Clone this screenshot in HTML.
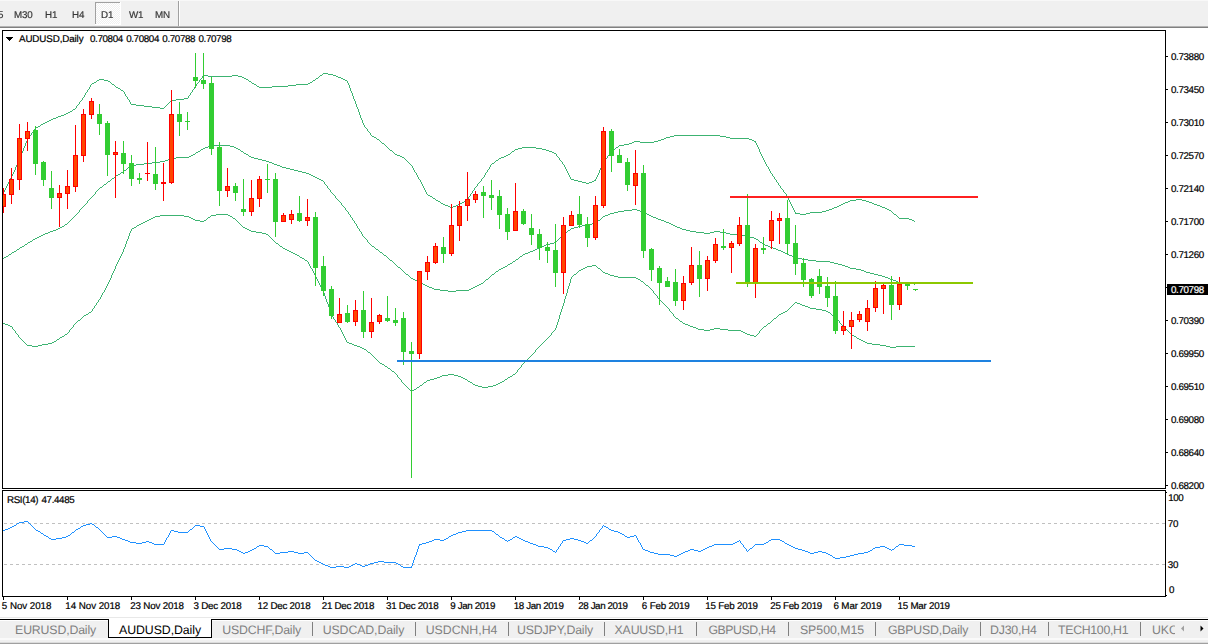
<!DOCTYPE html>
<html><head><meta charset="utf-8"><title>AUDUSD Daily</title>
<style>
html,body{margin:0;padding:0;background:#fff;}
body{width:1208px;height:644px;position:relative;overflow:hidden;font-family:"Liberation Sans",sans-serif;}
.t{position:absolute;white-space:nowrap;color:#000;line-height:14px;text-rendering:geometricPrecision;-webkit-text-stroke:0.2px currentColor;}
.ax{font-size:9.8px;letter-spacing:-0.37px;word-spacing:1px;}
.ti{font-size:9.8px;letter-spacing:-0.12px;}
.dt{font-size:9.8px;letter-spacing:-0.1px;}
.tb{font-size:9.8px;color:#383838;letter-spacing:-0.15px;will-change:transform;}
.tab{font-size:12.3px;color:#808080;letter-spacing:-0.05px;-webkit-text-stroke:0;}
</style></head><body>
<svg style="position:absolute;left:0;top:0" width="1208" height="644" viewBox="0 0 1208 644" shape-rendering="crispEdges">
<defs><clipPath id="cm"><rect x="3" y="31" width="1162" height="457"/></clipPath><clipPath id="cs"><rect x="3" y="491" width="1162" height="105"/></clipPath></defs>
<g clip-path="url(#cm)">
<path d="M-5.5 207v1M-4.5 205v2M-3.5 203v2M-2.5 201v2M-1.5 199v2M0.5 197v2M1.5 195v2M2.5 193v2M3.5 192v1M3.5 192v1M4.5 190v2M5.5 188v2M6.5 186v2M7.5 184v2M8.5 182v2M9.5 180v2M10.5 178v2M11.5 177v1M11.5 176v2M12.5 174v2M13.5 172v2M14.5 170v2M15.5 167v3M16.5 165v2M17.5 163v2M18.5 161v2M19.5 159v2M19.5 158v2M20.5 156v2M21.5 153v3M22.5 151v2M23.5 148v3M24.5 146v2M25.5 143v3M26.5 141v2M27.5 139v2M27.5 139v1M28.5 137v2M29.5 136v1M30.5 135v1M31.5 133v2M32.5 132v1M33.5 131v1M34.5 129v2M35.5 128v1M35 128.5h1M36 127.5h2M38 126.5h2M40 125.5h1M41 124.5h2M43 123.5h1M43 123.5h2M45 122.5h2M47 121.5h2M49 120.5h2M51 119.5h1M51 119.5h2M53 118.5h3M56 117.5h2M58 116.5h2M59 116.5h2M61 115.5h3M64 114.5h2M66 113.5h2M67 113.5h1M68 112.5h2M70 111.5h2M72 110.5h1M73 109.5h2M75 108.5h1M75.5 108v1M76.5 106v2M77.5 105v1M78.5 104v1M79.5 102v2M80.5 101v1M81.5 100v1M82.5 98v2M83.5 97v1M83.5 97v1M84.5 95v2M85.5 93v2M86.5 92v1M87.5 90v2M88.5 89v1M89.5 87v2M90.5 85v2M91.5 84v1M91 84.5h1M92 83.5h2M94 82.5h2M96 81.5h1M97 80.5h2M99 79.5h1M99 79.5h5M104 80.5h4M107 80.5h1M108 81.5h2M110 82.5h1M111 83.5h1M112 84.5h2M114 85.5h1M115 86.5h1M115 86.5h1M116 87.5h2M118 88.5h2M120 89.5h1M121 90.5h2M123 91.5h1M123.5 91v1M124.5 92v2M125.5 94v2M126.5 96v1M127.5 97v2M128.5 99v1M129.5 100v2M130.5 102v2M131.5 104v1M131 104.5h5M136 105.5h4M139 105.5h5M144 106.5h4M147 106.5h5M152 107.5h4M155 107.5h5M160 108.5h4M163 108.5h1M164 107.5h1M165 106.5h1M166 105.5h1M167 104.5h1M168 103.5h1M169 102.5h1M170 101.5h1M171 100.5h1M171 100.5h5M176 99.5h4M179 99.5h5M184 98.5h4M187.5 98v1M188.5 96v2M189.5 95v1M190.5 93v2M191.5 92v1M192.5 90v2M193.5 89v1M194.5 87v2M195.5 86v1M195.5 86v1M196.5 84v2M197.5 83v1M198.5 82v1M199.5 80v2M200.5 79v1M201.5 78v1M202.5 76v2M203.5 75v1M203 75.5h5M208 76.5h4M211 76.5h9M219 76.5h9M227 76.5h5M232 75.5h4M235 75.5h3M238 76.5h4M242 77.5h2M243 77.5h1M244 78.5h2M246 79.5h2M248 80.5h1M249 81.5h2M251 82.5h1M251 82.5h1M252 83.5h2M254 84.5h2M256 85.5h1M257 86.5h2M259 87.5h1M259 87.5h9M267 87.5h5M272 86.5h4M275 86.5h9M283 86.5h5M288 85.5h4M291 85.5h5M296 84.5h4M299 84.5h9M307 84.5h1M308 83.5h2M310 82.5h2M312 81.5h1M313 80.5h2M315 79.5h1M315 79.5h1M316 78.5h2M318 77.5h1M319 76.5h1M320 75.5h2M322 74.5h1M323 73.5h1M323 73.5h5M328 74.5h4M331 74.5h2M333 75.5h3M336 76.5h2M338 77.5h2M339 77.5h2M341 78.5h2M343 79.5h2M345 80.5h2M347 81.5h1M347.5 81v2M348.5 83v2M349.5 85v3M350.5 88v3M351.5 91v2M352.5 93v3M353.5 96v3M354.5 99v2M355.5 101v2M355.5 102v2M356.5 104v3M357.5 107v2M358.5 109v3M359.5 112v3M360.5 115v3M361.5 118v2M362.5 120v3M363.5 123v2M363.5 124v1M364.5 125v2M365.5 127v1M366.5 128v1M367.5 129v2M368.5 131v1M369.5 132v1M370.5 133v2M371.5 135v1M371 135.5h1M372 136.5h2M374 137.5h2M376 138.5h1M377 139.5h2M379 140.5h1M379 140.5h1M380 141.5h1M381 142.5h1M382 143.5h2M384 144.5h1M385 145.5h1M386 146.5h1M387 147.5h1M387 147.5h1M388 148.5h1M389 149.5h1M390 150.5h2M392 151.5h1M393 152.5h1M394 153.5h1M395 154.5h1M395 154.5h2M397 155.5h3M400 156.5h2M402 157.5h2M403 157.5h1M404 158.5h1M405 159.5h1M406 160.5h1M407 161.5h1M408 162.5h1M409 163.5h1M410 164.5h1M411 165.5h1M411.5 165v1M412.5 166v2M413.5 168v2M414.5 170v2M415.5 172v1M416.5 173v2M417.5 175v2M418.5 177v2M419.5 179v1M419.5 179v1M420.5 180v2M421.5 182v2M422.5 184v2M423.5 186v2M424.5 188v2M425.5 190v2M426.5 192v2M427.5 194v1M427 194.5h1M428 195.5h2M430 196.5h2M432 197.5h1M433 198.5h2M435 199.5h1M435 199.5h1M436 200.5h2M438 201.5h2M440 202.5h1M441 203.5h2M443 204.5h1M443 204.5h2M445 205.5h3M448 206.5h2M450 207.5h2M451 207.5h2M453 206.5h3M456 205.5h2M458 204.5h2M459 204.5h1M460 203.5h2M462 202.5h2M464 201.5h1M465 200.5h2M467 199.5h1M467.5 199v1M468.5 197v2M469.5 196v1M470.5 194v2M471.5 193v1M472.5 191v2M473.5 190v1M474.5 188v2M475.5 187v1M475.5 187v1M476.5 186v1M477.5 184v2M478.5 183v1M479.5 182v1M480.5 181v1M481.5 179v2M482.5 178v1M483.5 177v1M483.5 177v1M484.5 175v2M485.5 173v2M486.5 172v1M487.5 170v2M488.5 169v1M489.5 167v2M490.5 165v2M491.5 164v1M491 164.5h1M492 163.5h2M494 162.5h1M495 161.5h1M496 160.5h2M498 159.5h1M499 158.5h1M499 158.5h2M501 157.5h3M504 156.5h2M506 155.5h2M507 155.5h1M508 154.5h2M510 153.5h1M511 152.5h1M512 151.5h2M514 150.5h1M515 149.5h1M515 149.5h3M518 148.5h4M522 147.5h2M523 147.5h9M531 147.5h5M536 148.5h4M539 148.5h3M542 149.5h4M546 150.5h2M547 150.5h2M549 151.5h3M552 152.5h2M554 153.5h2M555.5 153v1M556.5 154v2M557.5 156v1M558.5 157v1M559.5 158v2M560.5 160v1M561.5 161v1M562.5 162v2M563.5 164v1M563.5 164v1M564.5 165v2M565.5 167v2M566.5 169v2M567.5 171v2M568.5 173v2M569.5 175v2M570.5 177v2M571.5 179v1M571 179.5h3M574 180.5h4M578 181.5h2M579 181.5h3M582 182.5h4M586 183.5h2M587 183.5h2M589 182.5h3M592 181.5h2M594 180.5h2M595.5 179v2M596.5 177v2M597.5 175v2M598.5 173v2M599.5 170v3M600.5 168v2M601.5 166v2M602.5 164v2M603.5 162v2M603.5 162v1M604.5 160v2M605.5 159v1M606.5 158v1M607.5 156v2M608.5 155v1M609.5 154v1M610.5 152v2M611.5 151v1M611 151.5h1M612 150.5h2M614 149.5h1M615 148.5h1M616 147.5h2M618 146.5h1M619 145.5h1M619 145.5h5M624 144.5h4M627 144.5h2M629 143.5h3M632 142.5h2M634 141.5h2M635 141.5h5M640 142.5h4M643 142.5h9M651 142.5h3M654 141.5h4M658 140.5h2M659 140.5h2M661 139.5h3M664 138.5h2M666 137.5h2M667 137.5h3M670 136.5h4M674 135.5h2M675 135.5h9M683 135.5h9M691 135.5h9M699 135.5h9M707 135.5h9M715 135.5h5M720 136.5h4M723 136.5h3M726 137.5h4M730 138.5h2M731 138.5h9M739 138.5h9M747 138.5h2M749 139.5h3M752 140.5h2M754 141.5h2M755.5 141v2M756.5 143v2M757.5 145v2M758.5 147v2M759.5 149v3M760.5 152v2M761.5 154v2M762.5 156v2M763.5 158v2M763.5 159v1M764.5 160v2M765.5 162v2M766.5 164v2M767.5 166v1M768.5 167v2M769.5 169v2M770.5 171v2M771.5 173v1M771.5 173v1M772.5 174v2M773.5 176v1M774.5 177v2M775.5 179v1M776.5 180v2M777.5 182v1M778.5 183v2M779.5 185v1M779.5 185v1M780.5 186v2M781.5 188v1M782.5 189v1M783.5 190v2M784.5 192v1M785.5 193v1M786.5 194v2M787.5 196v1M787.5 196v2M788.5 198v2M789.5 200v2M790.5 202v2M791.5 204v2M792.5 206v2M793.5 208v2M794.5 210v2M795.5 212v2M795 213.5h5M800 214.5h4M803 214.5h3M806 213.5h4M810 212.5h2M811 212.5h9M819 212.5h3M822 211.5h4M826 210.5h2M827 210.5h2M829 209.5h3M832 208.5h2M834 207.5h2M835 207.5h2M837 206.5h2M839 205.5h2M841 204.5h2M843 203.5h1M843 203.5h2M845 202.5h3M848 201.5h2M850 200.5h2M851 200.5h5M856 199.5h4M859 199.5h3M862 200.5h4M866 201.5h2M867 201.5h2M869 202.5h3M872 203.5h2M874 204.5h2M875 204.5h2M877 205.5h3M880 206.5h2M882 207.5h2M883 207.5h2M885 208.5h2M887 209.5h2M889 210.5h2M891 211.5h1M891 211.5h1M892 212.5h1M893 213.5h1M894 214.5h2M896 215.5h1M897 216.5h1M898 217.5h1M899 218.5h1M899 218.5h9M907 218.5h2M909 219.5h3M912 220.5h2M914 221.5h1" fill="none" stroke="#3cb371" stroke-width="1"/><path d="M-5 262.5h2M-3 261.5h2M-1 260.5h2M1 259.5h2M3 258.5h1M3 258.5h1M4 257.5h2M6 256.5h2M8 255.5h1M9 254.5h2M11 253.5h1M11 253.5h1M12 252.5h2M14 251.5h2M16 250.5h1M17 249.5h2M19 248.5h1M19 248.5h1M20 247.5h2M22 246.5h2M24 245.5h1M25 244.5h2M27 243.5h1M27 243.5h1M28 242.5h2M30 241.5h2M32 240.5h1M33 239.5h2M35 238.5h1M35 238.5h2M37 237.5h2M39 236.5h2M41 235.5h2M43 234.5h1M43 234.5h2M45 233.5h3M48 232.5h2M50 231.5h2M51 231.5h2M53 230.5h3M56 229.5h2M58 228.5h2M59 228.5h1M60 227.5h2M62 226.5h2M64 225.5h1M65 224.5h2M67 223.5h1M67 223.5h1M68 222.5h1M69 221.5h1M70 220.5h1M71 219.5h1M72 218.5h1M73 217.5h1M74 216.5h1M75 215.5h1M75.5 215v1M76.5 214v1M77.5 213v1M78.5 212v1M79.5 210v2M80.5 209v1M81.5 208v1M82.5 207v1M83.5 206v1M83.5 206v1M84.5 205v1M85.5 204v1M86.5 203v1M87.5 201v2M88.5 200v1M89.5 199v1M90.5 198v1M91.5 197v1M91.5 197v1M92.5 196v1M93.5 195v1M94.5 194v1M95.5 192v2M96.5 191v1M97.5 190v1M98.5 189v1M99.5 188v1M99 188.5h1M100 187.5h2M102 186.5h1M103 185.5h1M104 184.5h2M106 183.5h1M107 182.5h1M107 182.5h1M108 181.5h2M110 180.5h1M111 179.5h1M112 178.5h2M114 177.5h1M115 176.5h1M115 176.5h1M116 175.5h2M118 174.5h2M120 173.5h1M121 172.5h2M123 171.5h1M123 171.5h1M124 170.5h2M126 169.5h1M127 168.5h1M128 167.5h2M130 166.5h1M131 165.5h1M131 165.5h5M136 164.5h4M139 164.5h5M144 163.5h4M147 163.5h5M152 162.5h4M155 162.5h5M160 161.5h4M163 161.5h2M165 160.5h3M168 159.5h2M170 158.5h2M171 158.5h5M176 157.5h4M179 157.5h9M187 157.5h2M189 156.5h2M191 155.5h2M193 154.5h2M195 153.5h1M195 153.5h1M196 152.5h2M198 151.5h2M200 150.5h1M201 149.5h2M203 148.5h1M203 148.5h2M205 147.5h3M208 146.5h2M210 145.5h2M211 145.5h9M219 145.5h9M227 145.5h3M230 146.5h4M234 147.5h2M235 147.5h1M236 148.5h2M238 149.5h2M240 150.5h1M241 151.5h2M243 152.5h1M243 152.5h1M244 153.5h2M246 154.5h2M248 155.5h1M249 156.5h2M251 157.5h1M251 157.5h3M254 158.5h4M258 159.5h2M259 159.5h3M262 160.5h4M266 161.5h2M267 161.5h2M269 162.5h3M272 163.5h2M274 164.5h2M275 164.5h2M277 165.5h3M280 166.5h2M282 167.5h2M283 167.5h3M286 168.5h4M290 169.5h2M291 169.5h3M294 170.5h4M298 171.5h2M299 171.5h3M302 172.5h4M306 173.5h2M307 173.5h2M309 174.5h2M311 175.5h2M313 176.5h2M315 177.5h1M315 177.5h2M317 178.5h2M319 179.5h2M321 180.5h2M323 181.5h1M323.5 181v1M324.5 182v2M325.5 184v1M326.5 185v1M327.5 186v2M328.5 188v1M329.5 189v1M330.5 190v2M331.5 192v1M331.5 192v1M332.5 193v1M333.5 194v1M334.5 195v1M335.5 196v2M336.5 198v1M337.5 199v1M338.5 200v1M339.5 201v1M339.5 201v1M340.5 202v1M341.5 203v2M342.5 205v1M343.5 206v1M344.5 207v1M345.5 208v2M346.5 210v1M347.5 211v1M347.5 211v1M348.5 212v2M349.5 214v1M350.5 215v2M351.5 217v1M352.5 218v2M353.5 220v1M354.5 221v2M355.5 223v1M355.5 223v1M356.5 224v2M357.5 226v2M358.5 228v1M359.5 229v2M360.5 231v1M361.5 232v2M362.5 234v2M363.5 236v1M363.5 236v1M364.5 237v1M365.5 238v1M366.5 239v1M367.5 240v2M368.5 242v1M369.5 243v1M370.5 244v1M371.5 245v1M371 245.5h1M372 246.5h2M374 247.5h1M375 248.5h1M376 249.5h2M378 250.5h1M379 251.5h1M379 251.5h1M380 252.5h2M382 253.5h1M383 254.5h1M384 255.5h2M386 256.5h1M387 257.5h1M387 257.5h1M388 258.5h1M389 259.5h1M390 260.5h2M392 261.5h1M393 262.5h1M394 263.5h1M395 264.5h1M395 264.5h1M396 265.5h1M397 266.5h1M398 267.5h2M400 268.5h1M401 269.5h1M402 270.5h1M403 271.5h1M403 271.5h1M404 272.5h1M405 273.5h1M406 274.5h2M408 275.5h1M409 276.5h1M410 277.5h1M411 278.5h1M411 278.5h2M413 279.5h2M415 280.5h2M417 281.5h2M419 282.5h1M419 282.5h2M421 283.5h2M423 284.5h2M425 285.5h2M427 286.5h1M427 286.5h2M429 287.5h3M432 288.5h2M434 289.5h2M435 289.5h5M440 290.5h4M443 290.5h5M448 291.5h4M451 291.5h5M456 290.5h4M459 290.5h9M467 290.5h2M469 289.5h2M471 288.5h2M473 287.5h2M475 286.5h1M475 286.5h2M477 285.5h2M479 284.5h2M481 283.5h2M483 282.5h1M483 282.5h1M484 281.5h1M485 280.5h1M486 279.5h2M488 278.5h1M489 277.5h1M490 276.5h1M491 275.5h1M491 275.5h1M492 274.5h2M494 273.5h1M495 272.5h1M496 271.5h2M498 270.5h1M499 269.5h1M499 269.5h2M501 268.5h2M503 267.5h2M505 266.5h2M507 265.5h1M507 265.5h1M508 264.5h2M510 263.5h2M512 262.5h1M513 261.5h2M515 260.5h1M515 260.5h1M516 259.5h2M518 258.5h1M519 257.5h1M520 256.5h2M522 255.5h1M523 254.5h1M523 254.5h2M525 253.5h3M528 252.5h2M530 251.5h2M531 251.5h2M533 250.5h2M535 249.5h2M537 248.5h2M539 247.5h1M539 247.5h2M541 246.5h3M544 245.5h2M546 244.5h2M547 244.5h3M550 243.5h4M554 242.5h2M555 242.5h1M556 241.5h1M557 240.5h1M558 239.5h1M559 238.5h1M560 237.5h1M561 236.5h1M562 235.5h1M563 234.5h1M563 234.5h1M564 233.5h2M566 232.5h1M567 231.5h1M568 230.5h2M570 229.5h1M571 228.5h1M571 228.5h3M574 227.5h4M578 226.5h2M579 226.5h3M582 225.5h4M586 224.5h2M587 224.5h5M592 223.5h4M595 223.5h1M596 222.5h1M597 221.5h1M598 220.5h2M600 219.5h1M601 218.5h1M602 217.5h1M603 216.5h1M603 216.5h2M605 215.5h3M608 214.5h2M610 213.5h2M611 213.5h3M614 212.5h4M618 211.5h2M619 211.5h5M624 210.5h4M627 210.5h5M632 209.5h4M635 209.5h2M637 210.5h3M640 211.5h2M642 212.5h2M643 212.5h2M645 213.5h2M647 214.5h2M649 215.5h2M651 216.5h1M651 216.5h2M653 217.5h3M656 218.5h2M658 219.5h2M659 219.5h2M661 220.5h3M664 221.5h2M666 222.5h2M667 222.5h2M669 223.5h2M671 224.5h2M673 225.5h2M675 226.5h1M675 226.5h2M677 227.5h3M680 228.5h2M682 229.5h2M683 229.5h3M686 230.5h4M690 231.5h2M691 231.5h5M696 232.5h4M699 232.5h5M704 233.5h4M707 233.5h3M710 232.5h4M714 231.5h2M715 231.5h5M720 232.5h4M723 232.5h3M726 233.5h4M730 234.5h2M731 234.5h9M739 234.5h3M742 235.5h4M746 236.5h2M747 236.5h3M750 237.5h4M754 238.5h2M755 238.5h1M756 239.5h2M758 240.5h1M759 241.5h1M760 242.5h2M762 243.5h1M763 244.5h1M763 244.5h2M765 245.5h3M768 246.5h2M770 247.5h2M771 247.5h2M773 248.5h3M776 249.5h2M778 250.5h2M779 250.5h2M781 251.5h2M783 252.5h2M785 253.5h2M787 254.5h1M787 254.5h2M789 255.5h3M792 256.5h2M794 257.5h2M795 257.5h3M798 258.5h4M802 259.5h2M803 259.5h5M808 260.5h4M811 260.5h5M816 261.5h4M819 261.5h9M827 261.5h3M830 262.5h4M834 263.5h2M835 263.5h3M838 264.5h4M842 265.5h2M843 265.5h2M845 266.5h3M848 267.5h2M850 268.5h2M851 268.5h5M856 269.5h4M859 269.5h2M861 270.5h3M864 271.5h2M866 272.5h2M867 272.5h3M870 273.5h4M874 274.5h2M875 274.5h3M878 275.5h4M882 276.5h2M883 276.5h2M885 277.5h3M888 278.5h2M890 279.5h2M891 279.5h2M893 280.5h3M896 281.5h2M898 282.5h2M899 282.5h5M904 283.5h4M907 283.5h8" fill="none" stroke="#3cb371" stroke-width="1"/><path d="M-5 320.5h2M-3 321.5h3M0 322.5h2M2 323.5h2M3 323.5h2M5 324.5h3M8 325.5h2M10 326.5h2M11.5 326v1M12.5 327v2M13.5 329v1M14.5 330v1M15.5 331v2M16.5 333v1M17.5 334v1M18.5 335v2M19.5 337v1M19 337.5h1M20 338.5h1M21 339.5h1M22 340.5h1M23 341.5h1M24 342.5h1M25 343.5h1M26 344.5h1M27 345.5h1M27 345.5h5M32 346.5h4M35 346.5h3M38 345.5h4M42 344.5h2M43 344.5h5M48 343.5h4M51 343.5h1M52 342.5h2M54 341.5h2M56 340.5h1M57 339.5h2M59 338.5h1M59 338.5h1M60 337.5h2M62 336.5h2M64 335.5h1M65 334.5h2M67 333.5h1M67.5 333v1M68.5 332v1M69.5 330v2M70.5 329v1M71.5 328v1M72.5 327v1M73.5 325v2M74.5 324v1M75.5 323v1M75 323.5h1M76 322.5h1M77 321.5h1M78 320.5h2M80 319.5h1M81 318.5h1M82 317.5h1M83 316.5h1M83 316.5h1M84 315.5h2M86 314.5h2M88 313.5h1M89 312.5h2M91 311.5h1M91.5 311v1M92.5 309v2M93.5 308v1M94.5 306v2M95.5 305v1M96.5 303v2M97.5 302v1M98.5 300v2M99.5 299v1M99.5 299v1M100.5 297v2M101.5 295v2M102.5 293v2M103.5 292v1M104.5 290v2M105.5 288v2M106.5 286v2M107.5 285v1M107.5 284v2M108.5 282v2M109.5 280v2M110.5 278v2M111.5 275v3M112.5 273v2M113.5 271v2M114.5 269v2M115.5 267v2M115.5 266v2M116.5 264v2M117.5 262v2M118.5 260v2M119.5 258v2M120.5 256v2M121.5 254v2M122.5 252v2M123.5 250v2M123.5 249v2M124.5 247v2M125.5 244v3M126.5 241v3M127.5 239v2M128.5 236v3M129.5 233v3M130.5 231v2M131.5 229v2M131 229.5h1M132 228.5h2M134 227.5h2M136 226.5h1M137 225.5h2M139 224.5h1M139 224.5h2M141 223.5h2M143 222.5h2M145 221.5h2M147 220.5h1M147 220.5h2M149 219.5h2M151 218.5h2M153 217.5h2M155 216.5h1M155 216.5h5M160 215.5h4M163 215.5h9M171 215.5h9M179 215.5h5M184 216.5h4M187 216.5h2M189 217.5h2M191 218.5h2M193 219.5h2M195 220.5h1M195 220.5h5M200 221.5h4M203 221.5h1M204 220.5h2M206 219.5h1M207 218.5h1M208 217.5h2M210 216.5h1M211 215.5h1M211 215.5h5M216 214.5h4M219 214.5h9M227 214.5h1M228 215.5h2M230 216.5h2M232 217.5h1M233 218.5h2M235 219.5h1M235 219.5h1M236 220.5h1M237 221.5h1M238 222.5h1M239 223.5h1M240 224.5h1M241 225.5h1M242 226.5h1M243 227.5h1M243 227.5h2M245 228.5h2M247 229.5h2M249 230.5h2M251 231.5h1M251 231.5h5M256 232.5h4M259 232.5h3M262 233.5h4M266 234.5h2M267 234.5h1M268 235.5h1M269 236.5h1M270 237.5h1M271 238.5h1M272 239.5h1M273 240.5h1M274 241.5h1M275 242.5h1M275 242.5h1M276 243.5h2M278 244.5h1M279 245.5h1M280 246.5h2M282 247.5h1M283 248.5h1M283 248.5h2M285 249.5h2M287 250.5h2M289 251.5h2M291 252.5h1M291 252.5h2M293 253.5h2M295 254.5h2M297 255.5h2M299 256.5h1M299 256.5h1M300 257.5h2M302 258.5h2M304 259.5h1M305 260.5h2M307 261.5h1M307.5 261v1M308.5 262v2M309.5 264v2M310.5 266v2M311.5 268v1M312.5 269v2M313.5 271v2M314.5 273v2M315.5 275v1M315.5 275v2M316.5 277v2M317.5 279v2M318.5 281v2M319.5 283v2M320.5 285v2M321.5 287v2M322.5 289v2M323.5 291v1M323.5 291v2M324.5 293v3M325.5 296v3M326.5 299v3M327.5 302v2M328.5 304v3M329.5 307v3M330.5 310v3M331.5 313v2M331.5 314v1M332.5 315v2M333.5 317v2M334.5 319v1M335.5 320v2M336.5 322v1M337.5 323v2M338.5 325v2M339.5 327v1M339.5 327v1M340.5 328v2M341.5 330v2M342.5 332v2M343.5 334v2M344.5 336v2M345.5 338v2M346.5 340v2M347.5 342v1M347 342.5h2M349 343.5h3M352 344.5h2M354 345.5h2M355 345.5h2M357 346.5h3M360 347.5h2M362 348.5h2M363 348.5h1M364 349.5h2M366 350.5h1M367 351.5h1M368 352.5h2M370 353.5h1M371 354.5h1M371 354.5h1M372 355.5h1M373 356.5h1M374 357.5h1M375 358.5h1M376 359.5h1M377 360.5h1M378 361.5h1M379 362.5h1M379 362.5h1M380 363.5h2M382 364.5h2M384 365.5h1M385 366.5h2M387 367.5h1M387 367.5h1M388 368.5h2M390 369.5h1M391 370.5h1M392 371.5h2M394 372.5h1M395 373.5h1M395.5 373v1M396.5 374v1M397.5 375v2M398.5 377v1M399.5 378v1M400.5 379v1M401.5 380v2M402.5 382v1M403.5 383v1M403 383.5h1M404 384.5h1M405 385.5h1M406 386.5h1M407 387.5h1M408 388.5h1M409 389.5h1M410 390.5h1M411 391.5h1M411 391.5h1M412 390.5h2M414 389.5h2M416 388.5h1M417 387.5h2M419 386.5h1M419 386.5h1M420 385.5h2M422 384.5h1M423 383.5h1M424 382.5h2M426 381.5h1M427 380.5h1M427 380.5h3M430 379.5h4M434 378.5h2M435 378.5h2M437 377.5h3M440 376.5h2M442 375.5h2M443 375.5h5M448 374.5h4M451 374.5h3M454 375.5h4M458 376.5h2M459 376.5h2M461 377.5h2M463 378.5h2M465 379.5h2M467 380.5h1M467 380.5h1M468 381.5h2M470 382.5h2M472 383.5h1M473 384.5h2M475 385.5h1M475 385.5h3M478 386.5h4M482 387.5h2M483 387.5h5M488 386.5h4M491 386.5h2M493 385.5h3M496 384.5h2M498 383.5h2M499 383.5h1M500 382.5h2M502 381.5h2M504 380.5h1M505 379.5h2M507 378.5h1M507 378.5h1M508 377.5h2M510 376.5h2M512 375.5h1M513 374.5h2M515 373.5h1M515.5 373v1M516.5 372v1M517.5 370v2M518.5 369v1M519.5 368v1M520.5 367v1M521.5 365v2M522.5 364v1M523.5 363v1M523 363.5h1M524 362.5h1M525 361.5h1M526 360.5h1M527 359.5h1M528 358.5h1M529 357.5h1M530 356.5h1M531 355.5h1M531.5 355v1M532.5 354v1M533.5 353v1M534.5 352v1M535.5 350v2M536.5 349v1M537.5 348v1M538.5 347v1M539.5 346v1M539 346.5h1M540 345.5h1M541 344.5h1M542 343.5h1M543 342.5h1M544 341.5h1M545 340.5h1M546 339.5h1M547 338.5h1M547.5 338v1M548.5 337v1M549.5 336v1M550.5 335v1M551.5 333v2M552.5 332v1M553.5 331v1M554.5 330v1M555.5 329v1M555.5 328v2M556.5 325v3M557.5 322v3M558.5 319v3M559.5 315v4M560.5 312v3M561.5 309v3M562.5 306v3M563.5 304v2M563.5 303v2M564.5 299v4M565.5 296v3M566.5 293v3M567.5 289v4M568.5 286v3M569.5 283v3M570.5 279v4M571.5 277v2M571 277.5h1M572 276.5h1M573 275.5h1M574 274.5h2M576 273.5h1M577 272.5h1M578 271.5h1M579 270.5h1M579 270.5h2M581 269.5h2M583 268.5h2M585 267.5h2M587 266.5h1M587 266.5h5M592 265.5h4M595 265.5h1M596 266.5h1M597 267.5h1M598 268.5h2M600 269.5h1M601 270.5h1M602 271.5h1M603 272.5h1M603 272.5h2M605 273.5h3M608 274.5h2M610 275.5h2M611 275.5h3M614 276.5h4M618 277.5h2M619 277.5h9M627 277.5h9M635 277.5h1M636 278.5h2M638 279.5h2M640 280.5h1M641 281.5h2M643 282.5h1M643 282.5h1M644 283.5h1M645 284.5h1M646 285.5h2M648 286.5h1M649 287.5h1M650 288.5h1M651 289.5h1M651.5 289v1M652.5 290v1M653.5 291v2M654.5 293v1M655.5 294v1M656.5 295v1M657.5 296v2M658.5 298v1M659.5 299v1M659 299.5h1M660 300.5h1M661 301.5h1M662 302.5h1M663 303.5h1M664 304.5h1M665 305.5h1M666 306.5h1M667 307.5h1M667.5 307v1M668.5 308v1M669.5 309v2M670.5 311v1M671.5 312v1M672.5 313v1M673.5 314v2M674.5 316v1M675.5 317v1M675 317.5h1M676 318.5h2M678 319.5h1M679 320.5h1M680 321.5h2M682 322.5h1M683 323.5h1M683 323.5h2M685 324.5h3M688 325.5h2M690 326.5h2M691 326.5h2M693 327.5h3M696 328.5h2M698 329.5h2M699 329.5h5M704 330.5h4M707 330.5h3M710 329.5h4M714 328.5h2M715 328.5h5M720 329.5h4M723 329.5h5M728 330.5h4M731 330.5h9M739 330.5h2M741 331.5h2M743 332.5h2M745 333.5h2M747 334.5h1M747 334.5h3M750 335.5h4M754 336.5h2M755.5 336v1M756.5 335v1M757.5 334v1M758.5 333v1M759.5 331v2M760.5 330v1M761.5 329v1M762.5 328v1M763.5 327v1M763 327.5h1M764 326.5h2M766 325.5h1M767 324.5h1M768 323.5h2M770 322.5h1M771 321.5h1M771 321.5h1M772 320.5h1M773 319.5h1M774 318.5h2M776 317.5h1M777 316.5h1M778 315.5h1M779 314.5h1M779 314.5h2M781 313.5h2M783 312.5h2M785 311.5h2M787 310.5h1M787 310.5h1M788 309.5h1M789 308.5h1M790 307.5h1M791 306.5h1M792 305.5h1M793 304.5h1M794 303.5h1M795 302.5h1M795 302.5h2M797 303.5h3M800 304.5h2M802 305.5h2M803 305.5h2M805 306.5h3M808 307.5h2M810 308.5h2M811 308.5h5M816 309.5h4M819 309.5h3M822 310.5h4M826 311.5h2M827 311.5h1M828 312.5h2M830 313.5h1M831 314.5h1M832 315.5h2M834 316.5h1M835 317.5h1M835.5 317v1M836.5 318v1M837.5 319v1M838.5 320v1M839.5 321v2M840.5 323v1M841.5 324v1M842.5 325v1M843.5 326v1M843 326.5h1M844 327.5h1M845 328.5h1M846 329.5h1M847 330.5h1M848 331.5h1M849 332.5h1M850 333.5h1M851 334.5h1M851 334.5h1M852 335.5h2M854 336.5h2M856 337.5h1M857 338.5h2M859 339.5h1M859 339.5h2M861 340.5h2M863 341.5h2M865 342.5h2M867 343.5h1M867 343.5h5M872 344.5h4M875 344.5h5M880 345.5h4M883 345.5h3M886 346.5h4M890 347.5h2M891 347.5h5M896 346.5h4M899 346.5h9M907 346.5h8" fill="none" stroke="#3cb371" stroke-width="1"/><rect x="914" y="284" width="1" height="1" fill="#3cb371"/>
<rect x="3" y="188" width="1" height="25" fill="#ff0000"/><rect x="1" y="194" width="5" height="13" fill="#ff0000"/><rect x="2" y="195" width="3" height="11" fill="#ff4500"/><rect x="11" y="168" width="1" height="36" fill="#ff0000"/><rect x="9" y="179" width="5" height="16" fill="#ff0000"/><rect x="10" y="180" width="3" height="14" fill="#ff4500"/><rect x="19" y="124" width="1" height="66" fill="#ff0000"/><rect x="17" y="138" width="5" height="42" fill="#ff0000"/><rect x="18" y="139" width="3" height="40" fill="#ff4500"/><rect x="27" y="122" width="1" height="29" fill="#ff0000"/><rect x="25" y="131" width="5" height="8" fill="#ff0000"/><rect x="26" y="132" width="3" height="6" fill="#ff4500"/><rect x="35" y="126" width="1" height="49" fill="#32cd32"/><rect x="33" y="130" width="5" height="34" fill="#32cd32"/><rect x="43" y="161" width="1" height="25" fill="#32cd32"/><rect x="41" y="162" width="5" height="18" fill="#32cd32"/><rect x="51" y="171" width="1" height="38" fill="#32cd32"/><rect x="49" y="188" width="5" height="10" fill="#32cd32"/><rect x="59" y="185" width="1" height="42" fill="#ff0000"/><rect x="57" y="193" width="5" height="5" fill="#ff0000"/><rect x="58" y="194" width="3" height="3" fill="#ff4500"/><rect x="67" y="170" width="1" height="39" fill="#ff0000"/><rect x="65" y="186" width="5" height="8" fill="#ff0000"/><rect x="66" y="187" width="3" height="6" fill="#ff4500"/><rect x="75" y="125" width="1" height="67" fill="#ff0000"/><rect x="73" y="155" width="5" height="32" fill="#ff0000"/><rect x="74" y="156" width="3" height="30" fill="#ff4500"/><rect x="83" y="109" width="1" height="53" fill="#ff0000"/><rect x="81" y="114" width="5" height="42" fill="#ff0000"/><rect x="82" y="115" width="3" height="40" fill="#ff4500"/><rect x="91" y="98" width="1" height="21" fill="#ff0000"/><rect x="89" y="101" width="5" height="14" fill="#ff0000"/><rect x="90" y="102" width="3" height="12" fill="#ff4500"/><rect x="99" y="104" width="1" height="31" fill="#32cd32"/><rect x="97" y="114" width="5" height="10" fill="#32cd32"/><rect x="107" y="121" width="1" height="55" fill="#32cd32"/><rect x="105" y="123" width="5" height="32" fill="#32cd32"/><rect x="115" y="141" width="1" height="57" fill="#ff0000"/><rect x="113" y="152" width="5" height="3" fill="#ff0000"/><rect x="114" y="153" width="3" height="1" fill="#ff4500"/><rect x="123" y="141" width="1" height="33" fill="#32cd32"/><rect x="121" y="153" width="5" height="11" fill="#32cd32"/><rect x="131" y="155" width="1" height="31" fill="#32cd32"/><rect x="129" y="163" width="5" height="16" fill="#32cd32"/><rect x="139" y="173" width="1" height="11" fill="#32cd32"/><rect x="137" y="178" width="5" height="2" fill="#32cd32"/><rect x="147" y="142" width="1" height="39" fill="#ff0000"/><rect x="145" y="173" width="5" height="1" fill="#ff0000"/><rect x="155" y="147" width="1" height="43" fill="#32cd32"/><rect x="153" y="174" width="5" height="10" fill="#32cd32"/><rect x="163" y="163" width="1" height="38" fill="#ff0000"/><rect x="161" y="182" width="5" height="2" fill="#ff0000"/><rect x="171" y="90" width="1" height="94" fill="#ff0000"/><rect x="169" y="114" width="5" height="69" fill="#ff0000"/><rect x="170" y="115" width="3" height="67" fill="#ff4500"/><rect x="179" y="102" width="1" height="34" fill="#32cd32"/><rect x="177" y="114" width="5" height="8" fill="#32cd32"/><rect x="187" y="112" width="1" height="18" fill="#32cd32"/><rect x="185" y="121" width="5" height="1" fill="#32cd32"/><rect x="195" y="53" width="1" height="35" fill="#32cd32"/><rect x="193" y="77" width="5" height="4" fill="#32cd32"/><rect x="203" y="53" width="1" height="36" fill="#32cd32"/><rect x="201" y="80" width="5" height="4" fill="#32cd32"/><rect x="211" y="77" width="1" height="78" fill="#32cd32"/><rect x="209" y="83" width="5" height="66" fill="#32cd32"/><rect x="219" y="142" width="1" height="64" fill="#32cd32"/><rect x="217" y="147" width="5" height="44" fill="#32cd32"/><rect x="227" y="168" width="1" height="29" fill="#ff0000"/><rect x="225" y="186" width="5" height="5" fill="#ff0000"/><rect x="226" y="187" width="3" height="3" fill="#ff4500"/><rect x="235" y="183" width="1" height="18" fill="#32cd32"/><rect x="233" y="186" width="5" height="7" fill="#32cd32"/><rect x="243" y="179" width="1" height="37" fill="#32cd32"/><rect x="241" y="209" width="5" height="3" fill="#32cd32"/><rect x="251" y="180" width="1" height="36" fill="#ff0000"/><rect x="249" y="198" width="5" height="14" fill="#ff0000"/><rect x="250" y="199" width="3" height="12" fill="#ff4500"/><rect x="259" y="176" width="1" height="31" fill="#ff0000"/><rect x="257" y="179" width="5" height="20" fill="#ff0000"/><rect x="258" y="180" width="3" height="18" fill="#ff4500"/><rect x="267" y="164" width="1" height="29" fill="#32cd32"/><rect x="265" y="179" width="5" height="1" fill="#32cd32"/><rect x="275" y="173" width="1" height="64" fill="#32cd32"/><rect x="273" y="179" width="5" height="43" fill="#32cd32"/><rect x="283" y="213" width="1" height="9" fill="#ff0000"/><rect x="281" y="215" width="5" height="7" fill="#ff0000"/><rect x="282" y="216" width="3" height="5" fill="#ff4500"/><rect x="291" y="210" width="1" height="14" fill="#ff0000"/><rect x="289" y="214" width="5" height="6" fill="#ff0000"/><rect x="290" y="215" width="3" height="4" fill="#ff4500"/><rect x="299" y="196" width="1" height="26" fill="#32cd32"/><rect x="297" y="213" width="5" height="8" fill="#32cd32"/><rect x="307" y="199" width="1" height="27" fill="#ff0000"/><rect x="305" y="217" width="5" height="4" fill="#ff0000"/><rect x="306" y="218" width="3" height="2" fill="#ff4500"/><rect x="315" y="212" width="1" height="74" fill="#32cd32"/><rect x="313" y="217" width="5" height="51" fill="#32cd32"/><rect x="323" y="256" width="1" height="40" fill="#32cd32"/><rect x="321" y="266" width="5" height="25" fill="#32cd32"/><rect x="331" y="286" width="1" height="33" fill="#32cd32"/><rect x="329" y="289" width="5" height="27" fill="#32cd32"/><rect x="339" y="298" width="1" height="25" fill="#ff0000"/><rect x="337" y="314" width="5" height="9" fill="#ff0000"/><rect x="338" y="315" width="3" height="7" fill="#ff4500"/><rect x="347" y="305" width="1" height="18" fill="#32cd32"/><rect x="345" y="313" width="5" height="9" fill="#32cd32"/><rect x="355" y="300" width="1" height="26" fill="#ff0000"/><rect x="353" y="310" width="5" height="12" fill="#ff0000"/><rect x="354" y="311" width="3" height="10" fill="#ff4500"/><rect x="363" y="291" width="1" height="47" fill="#32cd32"/><rect x="361" y="310" width="5" height="22" fill="#32cd32"/><rect x="371" y="298" width="1" height="40" fill="#ff0000"/><rect x="369" y="322" width="5" height="10" fill="#ff0000"/><rect x="370" y="323" width="3" height="8" fill="#ff4500"/><rect x="379" y="314" width="1" height="10" fill="#ff0000"/><rect x="377" y="315" width="5" height="7" fill="#ff0000"/><rect x="378" y="316" width="3" height="5" fill="#ff4500"/><rect x="387" y="296" width="1" height="26" fill="#32cd32"/><rect x="385" y="318" width="5" height="3" fill="#32cd32"/><rect x="395" y="308" width="1" height="18" fill="#32cd32"/><rect x="393" y="320" width="5" height="3" fill="#32cd32"/><rect x="403" y="312" width="1" height="53" fill="#32cd32"/><rect x="401" y="318" width="5" height="34" fill="#32cd32"/><rect x="411" y="342" width="1" height="136" fill="#32cd32"/><rect x="409" y="351" width="5" height="3" fill="#32cd32"/><rect x="419" y="271" width="1" height="88" fill="#ff0000"/><rect x="417" y="271" width="5" height="83" fill="#ff0000"/><rect x="418" y="272" width="3" height="81" fill="#ff4500"/><rect x="427" y="256" width="1" height="24" fill="#ff0000"/><rect x="425" y="262" width="5" height="10" fill="#ff0000"/><rect x="426" y="263" width="3" height="8" fill="#ff4500"/><rect x="435" y="243" width="1" height="21" fill="#ff0000"/><rect x="433" y="246" width="5" height="17" fill="#ff0000"/><rect x="434" y="247" width="3" height="15" fill="#ff4500"/><rect x="443" y="237" width="1" height="26" fill="#32cd32"/><rect x="441" y="247" width="5" height="7" fill="#32cd32"/><rect x="451" y="204" width="1" height="52" fill="#ff0000"/><rect x="449" y="225" width="5" height="29" fill="#ff0000"/><rect x="450" y="226" width="3" height="27" fill="#ff4500"/><rect x="459" y="201" width="1" height="40" fill="#ff0000"/><rect x="457" y="206" width="5" height="20" fill="#ff0000"/><rect x="458" y="207" width="3" height="18" fill="#ff4500"/><rect x="467" y="172" width="1" height="49" fill="#ff0000"/><rect x="465" y="199" width="5" height="7" fill="#ff0000"/><rect x="466" y="200" width="3" height="5" fill="#ff4500"/><rect x="475" y="191" width="1" height="12" fill="#ff0000"/><rect x="473" y="194" width="5" height="6" fill="#ff0000"/><rect x="474" y="195" width="3" height="4" fill="#ff4500"/><rect x="483" y="186" width="1" height="32" fill="#32cd32"/><rect x="481" y="192" width="5" height="4" fill="#32cd32"/><rect x="491" y="180" width="1" height="30" fill="#32cd32"/><rect x="489" y="195" width="5" height="3" fill="#32cd32"/><rect x="499" y="190" width="1" height="39" fill="#32cd32"/><rect x="497" y="196" width="5" height="19" fill="#32cd32"/><rect x="507" y="208" width="1" height="32" fill="#32cd32"/><rect x="505" y="214" width="5" height="18" fill="#32cd32"/><rect x="515" y="183" width="1" height="48" fill="#ff0000"/><rect x="513" y="211" width="5" height="20" fill="#ff0000"/><rect x="514" y="212" width="3" height="18" fill="#ff4500"/><rect x="523" y="209" width="1" height="16" fill="#32cd32"/><rect x="521" y="211" width="5" height="13" fill="#32cd32"/><rect x="531" y="214" width="1" height="31" fill="#32cd32"/><rect x="529" y="228" width="5" height="7" fill="#32cd32"/><rect x="539" y="229" width="1" height="31" fill="#32cd32"/><rect x="537" y="234" width="5" height="14" fill="#32cd32"/><rect x="547" y="242" width="1" height="21" fill="#32cd32"/><rect x="545" y="247" width="5" height="4" fill="#32cd32"/><rect x="555" y="224" width="1" height="63" fill="#32cd32"/><rect x="553" y="250" width="5" height="23" fill="#32cd32"/><rect x="563" y="217" width="1" height="77" fill="#ff0000"/><rect x="561" y="225" width="5" height="48" fill="#ff0000"/><rect x="562" y="226" width="3" height="46" fill="#ff4500"/><rect x="571" y="211" width="1" height="15" fill="#ff0000"/><rect x="569" y="215" width="5" height="11" fill="#ff0000"/><rect x="570" y="216" width="3" height="9" fill="#ff4500"/><rect x="579" y="196" width="1" height="32" fill="#32cd32"/><rect x="577" y="214" width="5" height="11" fill="#32cd32"/><rect x="587" y="217" width="1" height="30" fill="#32cd32"/><rect x="585" y="224" width="5" height="14" fill="#32cd32"/><rect x="595" y="196" width="1" height="44" fill="#ff0000"/><rect x="593" y="205" width="5" height="33" fill="#ff0000"/><rect x="594" y="206" width="3" height="31" fill="#ff4500"/><rect x="603" y="127" width="1" height="81" fill="#ff0000"/><rect x="601" y="131" width="5" height="75" fill="#ff0000"/><rect x="602" y="132" width="3" height="73" fill="#ff4500"/><rect x="611" y="129" width="1" height="43" fill="#32cd32"/><rect x="609" y="131" width="5" height="25" fill="#32cd32"/><rect x="619" y="149" width="1" height="14" fill="#32cd32"/><rect x="617" y="155" width="5" height="8" fill="#32cd32"/><rect x="627" y="158" width="1" height="33" fill="#32cd32"/><rect x="625" y="162" width="5" height="23" fill="#32cd32"/><rect x="635" y="150" width="1" height="55" fill="#ff0000"/><rect x="633" y="173" width="5" height="13" fill="#ff0000"/><rect x="634" y="174" width="3" height="11" fill="#ff4500"/><rect x="643" y="165" width="1" height="93" fill="#32cd32"/><rect x="641" y="173" width="5" height="78" fill="#32cd32"/><rect x="651" y="248" width="1" height="33" fill="#32cd32"/><rect x="649" y="249" width="5" height="21" fill="#32cd32"/><rect x="659" y="266" width="1" height="39" fill="#32cd32"/><rect x="657" y="268" width="5" height="15" fill="#32cd32"/><rect x="667" y="277" width="1" height="10" fill="#32cd32"/><rect x="665" y="281" width="5" height="6" fill="#32cd32"/><rect x="675" y="269" width="1" height="37" fill="#32cd32"/><rect x="673" y="282" width="5" height="19" fill="#32cd32"/><rect x="683" y="276" width="1" height="34" fill="#ff0000"/><rect x="681" y="283" width="5" height="18" fill="#ff0000"/><rect x="682" y="284" width="3" height="16" fill="#ff4500"/><rect x="691" y="247" width="1" height="38" fill="#ff0000"/><rect x="689" y="265" width="5" height="18" fill="#ff0000"/><rect x="690" y="266" width="3" height="16" fill="#ff4500"/><rect x="699" y="251" width="1" height="46" fill="#32cd32"/><rect x="697" y="265" width="5" height="14" fill="#32cd32"/><rect x="707" y="256" width="1" height="35" fill="#ff0000"/><rect x="705" y="260" width="5" height="19" fill="#ff0000"/><rect x="706" y="261" width="3" height="17" fill="#ff4500"/><rect x="715" y="238" width="1" height="25" fill="#ff0000"/><rect x="713" y="244" width="5" height="17" fill="#ff0000"/><rect x="714" y="245" width="3" height="15" fill="#ff4500"/><rect x="723" y="229" width="1" height="21" fill="#32cd32"/><rect x="721" y="246" width="5" height="2" fill="#32cd32"/><rect x="731" y="241" width="1" height="32" fill="#ff0000"/><rect x="729" y="243" width="5" height="5" fill="#ff0000"/><rect x="730" y="244" width="3" height="3" fill="#ff4500"/><rect x="739" y="217" width="1" height="29" fill="#ff0000"/><rect x="737" y="225" width="5" height="19" fill="#ff0000"/><rect x="738" y="226" width="3" height="17" fill="#ff4500"/><rect x="747" y="194" width="1" height="93" fill="#32cd32"/><rect x="745" y="225" width="5" height="58" fill="#32cd32"/><rect x="755" y="244" width="1" height="54" fill="#ff0000"/><rect x="753" y="248" width="5" height="35" fill="#ff0000"/><rect x="754" y="249" width="3" height="33" fill="#ff4500"/><rect x="763" y="237" width="1" height="17" fill="#32cd32"/><rect x="761" y="248" width="5" height="2" fill="#32cd32"/><rect x="771" y="211" width="1" height="38" fill="#ff0000"/><rect x="769" y="220" width="5" height="21" fill="#ff0000"/><rect x="770" y="221" width="3" height="19" fill="#ff4500"/><rect x="779" y="213" width="1" height="31" fill="#ff0000"/><rect x="777" y="218" width="5" height="3" fill="#ff0000"/><rect x="778" y="219" width="3" height="1" fill="#ff4500"/><rect x="787" y="200" width="1" height="54" fill="#32cd32"/><rect x="785" y="218" width="5" height="26" fill="#32cd32"/><rect x="795" y="225" width="1" height="50" fill="#32cd32"/><rect x="793" y="243" width="5" height="21" fill="#32cd32"/><rect x="803" y="258" width="1" height="29" fill="#32cd32"/><rect x="801" y="263" width="5" height="17" fill="#32cd32"/><rect x="811" y="278" width="1" height="20" fill="#32cd32"/><rect x="809" y="279" width="5" height="17" fill="#32cd32"/><rect x="819" y="269" width="1" height="25" fill="#32cd32"/><rect x="817" y="276" width="5" height="11" fill="#32cd32"/><rect x="827" y="277" width="1" height="30" fill="#32cd32"/><rect x="825" y="286" width="5" height="12" fill="#32cd32"/><rect x="835" y="281" width="1" height="53" fill="#32cd32"/><rect x="833" y="296" width="5" height="35" fill="#32cd32"/><rect x="843" y="311" width="1" height="24" fill="#ff0000"/><rect x="841" y="326" width="5" height="5" fill="#ff0000"/><rect x="842" y="327" width="3" height="3" fill="#ff4500"/><rect x="851" y="312" width="1" height="37" fill="#ff0000"/><rect x="849" y="320" width="5" height="7" fill="#ff0000"/><rect x="850" y="321" width="3" height="5" fill="#ff4500"/><rect x="859" y="311" width="1" height="11" fill="#ff0000"/><rect x="857" y="314" width="5" height="6" fill="#ff0000"/><rect x="858" y="315" width="3" height="4" fill="#ff4500"/><rect x="867" y="300" width="1" height="31" fill="#ff0000"/><rect x="865" y="308" width="5" height="14" fill="#ff0000"/><rect x="866" y="309" width="3" height="12" fill="#ff4500"/><rect x="875" y="281" width="1" height="31" fill="#ff0000"/><rect x="873" y="288" width="5" height="20" fill="#ff0000"/><rect x="874" y="289" width="3" height="18" fill="#ff4500"/><rect x="883" y="284" width="1" height="30" fill="#ff0000"/><rect x="881" y="285" width="5" height="4" fill="#ff0000"/><rect x="882" y="286" width="3" height="2" fill="#ff4500"/><rect x="891" y="276" width="1" height="44" fill="#32cd32"/><rect x="889" y="285" width="5" height="20" fill="#32cd32"/><rect x="899" y="277" width="1" height="33" fill="#ff0000"/><rect x="897" y="284" width="5" height="21" fill="#ff0000"/><rect x="898" y="285" width="3" height="19" fill="#ff4500"/><rect x="907" y="284" width="1" height="6" fill="#32cd32"/><rect x="905" y="284" width="5" height="2" fill="#32cd32"/><rect x="915" y="289" width="1" height="2" fill="#32cd32"/><rect x="913" y="289" width="5" height="1" fill="#32cd32"/>
<rect x="730" y="196" width="248" height="2" fill="#ff2020"/><rect x="736" y="282" width="237" height="2" fill="#8cc800"/><rect x="397" y="360" width="594" height="2" fill="#1e82e0"/>
</g>
<g clip-path="url(#cs)">
<line x1="4" y1="523.5" x2="1165" y2="523.5" stroke="#c0c0c0" stroke-width="1" stroke-dasharray="3 3" stroke-dashoffset="0"/><line x1="4" y1="564.5" x2="1165" y2="564.5" stroke="#c0c0c0" stroke-width="1" stroke-dasharray="3 3" stroke-dashoffset="0"/>
<path d="M-5 533.5h2M-3 532.5h3M0 531.5h2M2 530.5h2M3 530.5h2M5 529.5h3M8 528.5h2M10 527.5h2M11 527.5h1M12 526.5h2M14 525.5h2M16 524.5h1M17 523.5h2M19 522.5h1M19 522.5h5M24 521.5h4M27 521.5h1M28 522.5h1M29 523.5h1M30 524.5h1M31 525.5h1M32 526.5h1M33 527.5h1M34 528.5h1M35 529.5h1M35 529.5h1M36 530.5h2M38 531.5h2M40 532.5h1M41 533.5h2M43 534.5h1M43 534.5h1M44 535.5h2M46 536.5h2M48 537.5h1M49 538.5h2M51 539.5h1M51 539.5h5M56 538.5h4M59 538.5h3M62 537.5h4M66 536.5h2M67 536.5h1M68 535.5h2M70 534.5h1M71 533.5h1M72 532.5h2M74 531.5h1M75 530.5h1M75 530.5h1M76 529.5h2M78 528.5h2M80 527.5h1M81 526.5h2M83 525.5h1M83 525.5h3M86 524.5h4M90 523.5h2M91 523.5h1M92 524.5h2M94 525.5h1M95 526.5h1M96 527.5h2M98 528.5h1M99 529.5h1M99 529.5h1M100 530.5h1M101 531.5h1M102 532.5h1M103 533.5h1M104 534.5h1M105 535.5h1M106 536.5h1M107 537.5h1M107 537.5h5M112 536.5h4M115 536.5h2M117 537.5h3M120 538.5h2M122 539.5h2M123 539.5h2M125 540.5h3M128 541.5h2M130 542.5h2M131 542.5h5M136 543.5h4M139 543.5h3M142 542.5h4M146 541.5h2M147 541.5h2M149 542.5h3M152 543.5h2M154 544.5h2M155 544.5h9M163.5 544v1M164.5 542v2M165.5 540v2M166.5 538v2M167.5 537v1M168.5 535v2M169.5 533v2M170.5 531v2M171.5 530v1M171 530.5h3M174 531.5h4M178 532.5h2M179 532.5h9M187 532.5h1M188 531.5h1M189 530.5h1M190 529.5h2M192 528.5h1M193 527.5h1M194 526.5h1M195 525.5h1M195 525.5h5M200 526.5h4M203.5 526v1M204.5 527v2M205.5 529v2M206.5 531v2M207.5 533v2M208.5 535v2M209.5 537v2M210.5 539v2M211.5 541v1M211 541.5h1M212 542.5h1M213 543.5h1M214 544.5h1M215 545.5h1M216 546.5h1M217 547.5h1M218 548.5h1M219 549.5h1M219 549.5h5M224 548.5h4M227 548.5h5M232 549.5h4M235 549.5h2M237 550.5h2M239 551.5h2M241 552.5h2M243 553.5h1M243 553.5h2M245 552.5h3M248 551.5h2M250 550.5h2M251 550.5h1M252 549.5h2M254 548.5h2M256 547.5h1M257 546.5h2M259 545.5h1M259 545.5h5M264 546.5h4M267 546.5h1M268 547.5h1M269 548.5h1M270 549.5h2M272 550.5h1M273 551.5h1M274 552.5h1M275 553.5h1M275 553.5h5M280 552.5h4M283 552.5h5M288 551.5h4M291 551.5h3M294 552.5h4M298 553.5h2M299 553.5h5M304 552.5h4M307 552.5h1M308 553.5h1M309 554.5h1M310 555.5h1M311 556.5h1M312 557.5h1M313 558.5h1M314 559.5h1M315 560.5h1M315 560.5h2M317 561.5h2M319 562.5h2M321 563.5h2M323 564.5h1M323 564.5h2M325 565.5h3M328 566.5h2M330 567.5h2M331 567.5h5M336 566.5h4M339 566.5h5M344 567.5h4M347 567.5h2M349 566.5h2M351 565.5h2M353 564.5h2M355 563.5h1M355 563.5h2M357 564.5h3M360 565.5h2M362 566.5h2M363 566.5h2M365 565.5h3M368 564.5h2M370 563.5h2M371 563.5h3M374 562.5h4M378 561.5h2M379 561.5h5M384 562.5h4M387 562.5h9M395 562.5h1M396 563.5h2M398 564.5h2M400 565.5h1M401 566.5h2M403 567.5h1M403 567.5h9M411.5 566v2M412.5 563v3M413.5 560v3M414.5 557v3M415.5 555v2M416.5 552v3M417.5 549v3M418.5 546v3M419.5 544v2M419 544.5h3M422 543.5h4M426 542.5h2M427 542.5h2M429 541.5h3M432 540.5h2M434 539.5h2M435 539.5h5M440 540.5h4M443 540.5h1M444 539.5h2M446 538.5h2M448 537.5h1M449 536.5h2M451 535.5h1M451 535.5h2M453 534.5h3M456 533.5h2M458 532.5h2M459 532.5h3M462 531.5h4M466 530.5h2M467 530.5h9M475 530.5h9M483 530.5h9M491 530.5h1M492 531.5h2M494 532.5h1M495 533.5h1M496 534.5h2M498 535.5h1M499 536.5h1M499 536.5h1M500 537.5h2M502 538.5h2M504 539.5h1M505 540.5h2M507 541.5h1M507 541.5h1M508 540.5h2M510 539.5h2M512 538.5h1M513 537.5h2M515 536.5h1M515 536.5h2M517 537.5h2M519 538.5h2M521 539.5h2M523 540.5h1M523 540.5h2M525 541.5h3M528 542.5h2M530 543.5h2M531 543.5h2M533 544.5h3M536 545.5h2M538 546.5h2M539 546.5h5M544 547.5h4M547 547.5h1M548 548.5h2M550 549.5h2M552 550.5h1M553 551.5h2M555 552.5h1M555.5 552v1M556.5 550v2M557.5 549v1M558.5 547v2M559.5 546v1M560.5 544v2M561.5 543v1M562.5 541v2M563.5 540v1M563 540.5h3M566 539.5h4M570 538.5h2M571 538.5h3M574 539.5h4M578 540.5h2M579 540.5h2M581 541.5h3M584 542.5h2M586 543.5h2M587 543.5h1M588 542.5h1M589 541.5h1M590 540.5h2M592 539.5h1M593 538.5h1M594 537.5h1M595 536.5h1M595.5 536v1M596.5 534v2M597.5 533v1M598.5 532v1M599.5 530v2M600.5 529v1M601.5 528v1M602.5 526v2M603.5 525v1M603 525.5h1M604 526.5h2M606 527.5h2M608 528.5h1M609 529.5h2M611 530.5h1M611 530.5h3M614 531.5h4M618 532.5h2M619 532.5h1M620 533.5h2M622 534.5h2M624 535.5h1M625 536.5h2M627 537.5h1M627 537.5h3M630 536.5h4M634 535.5h2M635.5 535v1M636.5 536v2M637.5 538v2M638.5 540v2M639.5 542v1M640.5 543v2M641.5 545v2M642.5 547v2M643.5 549v1M643 549.5h2M645 550.5h3M648 551.5h2M650 552.5h2M651 552.5h3M654 553.5h4M658 554.5h2M659 554.5h9M667 554.5h3M670 555.5h4M674 556.5h2M675 556.5h2M677 555.5h2M679 554.5h2M681 553.5h2M683 552.5h1M683 552.5h2M685 551.5h3M688 550.5h2M690 549.5h2M691 549.5h3M694 550.5h4M698 551.5h2M699 551.5h2M701 550.5h2M703 549.5h2M705 548.5h2M707 547.5h1M707 547.5h2M709 546.5h3M712 545.5h2M714 544.5h2M715 544.5h9M723 544.5h9M731 544.5h2M733 543.5h2M735 542.5h2M737 541.5h2M739 540.5h1M739.5 540v1M740.5 541v2M741.5 543v1M742.5 544v1M743.5 545v2M744.5 547v1M745.5 548v1M746.5 549v2M747.5 551v1M747 551.5h1M748 550.5h1M749 549.5h1M750 548.5h2M752 547.5h1M753 546.5h1M754 545.5h1M755 544.5h1M755 544.5h9M763 544.5h1M764 543.5h2M766 542.5h2M768 541.5h1M769 540.5h2M771 539.5h1M771 539.5h9M779 539.5h1M780 540.5h2M782 541.5h2M784 542.5h1M785 543.5h2M787 544.5h1M787 544.5h2M789 545.5h2M791 546.5h2M793 547.5h2M795 548.5h1M795 548.5h3M798 549.5h4M802 550.5h2M803 550.5h2M805 551.5h3M808 552.5h2M810 553.5h2M811 553.5h3M814 552.5h4M818 551.5h2M819 551.5h3M822 552.5h4M826 553.5h2M827 553.5h1M828 554.5h2M830 555.5h2M832 556.5h1M833 557.5h2M835 558.5h1M835 558.5h5M840 557.5h4M843 557.5h3M846 556.5h4M850 555.5h2M851 555.5h3M854 554.5h4M858 553.5h2M859 553.5h5M864 552.5h4M867 552.5h1M868 551.5h2M870 550.5h2M872 549.5h1M873 548.5h2M875 547.5h1M875 547.5h5M880 546.5h4M883 546.5h2M885 547.5h2M887 548.5h2M889 549.5h2M891 550.5h1M891 550.5h1M892 549.5h2M894 548.5h1M895 547.5h1M896 546.5h2M898 545.5h1M899 544.5h1M899 544.5h5M904 545.5h4M907 545.5h5M912 546.5h3" fill="none" stroke="#1e90ff" stroke-width="1"/>
</g>
<rect x="2" y="30" width="1164" height="1" fill="#000"/><rect x="2" y="30" width="1" height="459" fill="#000"/><rect x="2" y="488" width="1164" height="1" fill="#000"/><rect x="1165" y="30" width="1" height="459" fill="#000"/><rect x="1165" y="490" width="1" height="107" fill="#000"/><rect x="1166" y="492" width="1" height="1" fill="#000"/><rect x="1166" y="595" width="1" height="1" fill="#000"/><rect x="2" y="490" width="1164" height="1" fill="#000"/><rect x="2" y="490" width="1" height="107" fill="#000"/><rect x="2" y="596" width="1164" height="1" fill="#000"/><rect x="1166" y="56" width="2" height="1" fill="#000"/><rect x="1166" y="89" width="2" height="1" fill="#000"/><rect x="1166" y="122" width="2" height="1" fill="#000"/><rect x="1166" y="155" width="2" height="1" fill="#000"/><rect x="1166" y="188" width="2" height="1" fill="#000"/><rect x="1166" y="221" width="2" height="1" fill="#000"/><rect x="1166" y="254" width="2" height="1" fill="#000"/><rect x="1166" y="287" width="2" height="1" fill="#000"/><rect x="1166" y="320" width="2" height="1" fill="#000"/><rect x="1166" y="353" width="2" height="1" fill="#000"/><rect x="1166" y="386" width="2" height="1" fill="#000"/><rect x="1166" y="419" width="2" height="1" fill="#000"/><rect x="1166" y="452" width="2" height="1" fill="#000"/><rect x="1166" y="485" width="2" height="1" fill="#000"/><rect x="3" y="597" width="1" height="3" fill="#000"/><rect x="67" y="597" width="1" height="3" fill="#000"/><rect x="131" y="597" width="1" height="3" fill="#000"/><rect x="195" y="597" width="1" height="3" fill="#000"/><rect x="259" y="597" width="1" height="3" fill="#000"/><rect x="323" y="597" width="1" height="3" fill="#000"/><rect x="387" y="597" width="1" height="3" fill="#000"/><rect x="451" y="597" width="1" height="3" fill="#000"/><rect x="515" y="597" width="1" height="3" fill="#000"/><rect x="579" y="597" width="1" height="3" fill="#000"/><rect x="643" y="597" width="1" height="3" fill="#000"/><rect x="707" y="597" width="1" height="3" fill="#000"/><rect x="771" y="597" width="1" height="3" fill="#000"/><rect x="835" y="597" width="1" height="3" fill="#000"/><rect x="899" y="597" width="1" height="3" fill="#000"/>
<polygon points="6,37 13,37 9.5,41" fill="#000"/>
</svg>
<div style="position:absolute;left:1167px;top:284px;width:41px;height:11px;background:#000"></div>
<div style="position:absolute;left:0;top:0;width:1208px;height:26px;background:#f0f0f0"></div><div style="position:absolute;left:0;top:0;width:1208px;height:1px;background:#f8f8f8"></div><div style="position:absolute;left:0;top:26px;width:1208px;height:1px;background:#b4b4b4"></div><div style="position:absolute;left:0;top:27px;width:1208px;height:1px;background:#808080"></div><div style="position:absolute;left:95px;top:2px;width:26px;height:23px;background:#fff"></div><div style="position:absolute;left:95px;top:2px;width:25px;height:22px;background:#a0a0a0"></div><div style="position:absolute;left:96px;top:3px;width:24px;height:21px;background-color:#f0f0f0;background-image:conic-gradient(#fff 25%,#f0f0f0 0 50%,#fff 0 75%,#f0f0f0 0);background-size:2px 2px"></div><div style="position:absolute;left:178px;top:1px;width:1px;height:25px;background:#a0a0a0"></div><div style="position:absolute;left:179px;top:1px;width:1px;height:25px;background:#fff"></div>
<div style="position:absolute;left:0;top:617px;width:1208px;height:1px;background:#e8e8e8"></div><div style="position:absolute;left:0;top:619px;width:1208px;height:25px;background:#f0f0f0"></div><div style="position:absolute;left:0;top:619px;width:1208px;height:1px;background:#000"></div><div style="position:absolute;left:0;top:620px;width:1208px;height:1px;background:#fff"></div><div style="position:absolute;left:0;top:638px;width:1208px;height:2px;background:#fafafa"></div><div style="position:absolute;left:0;top:640px;width:1208px;height:2px;background:#f0f0f0"></div><div style="position:absolute;left:0;top:642px;width:1208px;height:1px;background:#dcdcdc"></div><div style="position:absolute;left:0;top:643px;width:1208px;height:1px;background:#a0a0a0"></div><div style="position:absolute;left:108px;top:619px;width:104px;height:19px;background:#000"></div><div style="position:absolute;left:109px;top:619px;width:102px;height:18px;background:#fff"></div><div style="position:absolute;left:312px;top:622px;width:1px;height:14px;background:#808080"></div><div style="position:absolute;left:415px;top:622px;width:1px;height:14px;background:#808080"></div><div style="position:absolute;left:508px;top:622px;width:1px;height:14px;background:#808080"></div><div style="position:absolute;left:604px;top:622px;width:1px;height:14px;background:#808080"></div><div style="position:absolute;left:696px;top:622px;width:1px;height:14px;background:#808080"></div><div style="position:absolute;left:788px;top:622px;width:1px;height:14px;background:#808080"></div><div style="position:absolute;left:875px;top:622px;width:1px;height:14px;background:#808080"></div><div style="position:absolute;left:980px;top:622px;width:1px;height:14px;background:#808080"></div><div style="position:absolute;left:1048px;top:622px;width:1px;height:14px;background:#808080"></div><div style="position:absolute;left:1140px;top:622px;width:1px;height:14px;background:#808080"></div>
<div class="t ax" style="left:1171px;top:51px;">0.73880</div><div class="t ax" style="left:1171px;top:84px;">0.73450</div><div class="t ax" style="left:1171px;top:117px;">0.73010</div><div class="t ax" style="left:1171px;top:150px;">0.72570</div><div class="t ax" style="left:1171px;top:183px;">0.72140</div><div class="t ax" style="left:1171px;top:216px;">0.71700</div><div class="t ax" style="left:1171px;top:249px;">0.71260</div><div class="t ax" style="left:1171px;top:315px;">0.70390</div><div class="t ax" style="left:1171px;top:348px;">0.69950</div><div class="t ax" style="left:1171px;top:381px;">0.69510</div><div class="t ax" style="left:1171px;top:414px;">0.69080</div><div class="t ax" style="left:1171px;top:447px;">0.68640</div><div class="t ax" style="left:1171px;top:480px;">0.68200</div><div class="t ax" style="left:1171px;top:284px;color:#fff">0.70798</div><div class="t ax" style="left:1168.2px;top:492px;">100</div><div class="t ax" style="left:1167.8px;top:518px;">70</div><div class="t ax" style="left:1167.8px;top:559px;">30</div><div class="t ax" style="left:1169px;top:584px;">0</div><div class="t dt" style="left:1.86px;top:600px;letter-spacing:-0.069px">5 Nov 2018</div><div class="t dt" style="left:65.37px;top:600px;letter-spacing:-0.065px">14 Nov 2018</div><div class="t dt" style="left:130.28px;top:600px;letter-spacing:-0.177px">23 Nov 2018</div><div class="t dt" style="left:193.44px;top:600px;letter-spacing:-0.209px">3 Dec 2018</div><div class="t dt" style="left:257.58px;top:600px;letter-spacing:-0.254px">12 Dec 2018</div><div class="t dt" style="left:321.86px;top:600px;letter-spacing:-0.303px">21 Dec 2018</div><div class="t dt" style="left:386.07px;top:600px;letter-spacing:-0.303px">31 Dec 2018</div><div class="t dt" style="left:450.28px;top:600px;letter-spacing:-0.372px">9 Jan 2019</div><div class="t dt" style="left:513.72px;top:600px;letter-spacing:-0.380px">18 Jan 2019</div><div class="t dt" style="left:578.28px;top:600px;letter-spacing:-0.415px">28 Jan 2019</div><div class="t dt" style="left:641.86px;top:600px;letter-spacing:-0.201px">6 Feb 2019</div><div class="t dt" style="left:705.37px;top:600px;letter-spacing:-0.233px">15 Feb 2019</div><div class="t dt" style="left:770.28px;top:600px;letter-spacing:-0.303px">25 Feb 2019</div><div class="t dt" style="left:833.44px;top:600px;letter-spacing:-0.131px">6 Mar 2019</div><div class="t dt" style="left:897.58px;top:600px;letter-spacing:-0.254px">15 Mar 2019</div><div class="t ti" style="left:19px;top:33px;">AUDUSD,Daily</div><div class="t ax" style="left:90px;top:33px;">0.70804 0.70804 0.70788 0.70798</div><div class="t ax" style="left:7px;top:494px;">RSI(14) 47.4485</div><div class="t tb" style="left:-2.5px;top:9px;">5</div><div class="t tb" style="left:13.7px;top:9px;">M30</div><div class="t tb" style="left:44.7px;top:9px;">H1</div><div class="t tb" style="left:71.7px;top:9px;">H4</div><div class="t tb" style="left:100.7px;top:9px;">D1</div><div class="t tb" style="left:128.6px;top:9px;">W1</div><div class="t tb" style="left:154.7px;top:9px;">MN</div><div class="t tab" style="left:15.09px;top:623px;letter-spacing:-0.145px">EURUSD,Daily</div><div class="t tab" style="left:119.0px;top:623px;color:#000;letter-spacing:-0.050px">AUDUSD,Daily</div><div class="t tab" style="left:222.15px;top:623px;letter-spacing:-0.145px">USDCHF,Daily</div><div class="t tab" style="left:322.72px;top:623px;letter-spacing:-0.095px">USDCAD,Daily</div><div class="t tab" style="left:425.72px;top:623px;letter-spacing:-0.015px">USDCNH,H4</div><div class="t tab" style="left:517.09px;top:623px;letter-spacing:-0.145px">USDJPY,Daily</div><div class="t tab" style="left:614.58px;top:623px;letter-spacing:-0.164px">XAUUSD,H1</div><div class="t tab" style="left:708.42px;top:623px;letter-spacing:-0.426px">GBPUSD,H4</div><div class="t tab" style="left:799.93px;top:623px;letter-spacing:-0.006px">SP500,M15</div><div class="t tab" style="left:888.0px;top:623px;letter-spacing:-0.209px">GBPUSD,Daily</div><div class="t tab" style="left:989.93px;top:623px;letter-spacing:-0.155px">DJ30,H4</div><div class="t tab" style="left:1058.0px;top:623px;letter-spacing:-0.291px">TECH100,H1</div><div class="t tab" style="left:1152px;top:623px;">UKOIL</div>
<div style="position:absolute;left:1175px;top:621px;width:33px;height:17px;background:#f0f0f0"></div>
<svg style="position:absolute;left:1176px;top:621px" width="32" height="17"><polygon points="8,7.5 5,4.5 8,1.5" transform="translate(0,3)" fill="#a0a0a0"/><polygon points="24.5,4.5 24.5,10.5 27.5,7.5" fill="#000"/></svg>
</body></html>
